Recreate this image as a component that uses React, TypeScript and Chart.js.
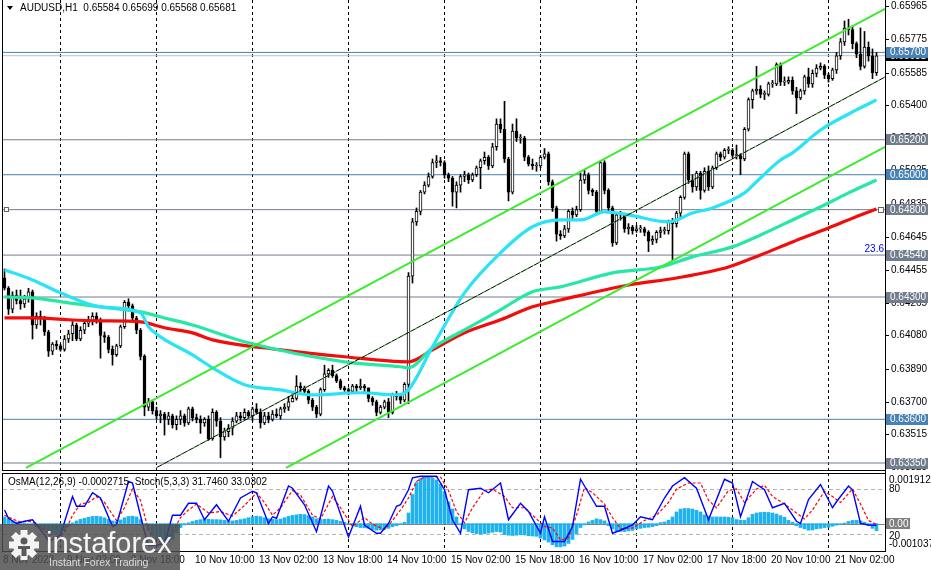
import React, { useEffect, useRef } from "react";
import { Chart, registerables } from "chart.js";

Chart.register(...registerables);

// ---------------- DATA ----------------
const symbolHeader = "AUDUSD,H1  0.65584 0.65699 0.65568 0.65681";
const subHeader = "OsMA(12,26,9) -0.0002715  Stoch(5,3,3) 31.7460 33.0302";

const firstOpen = 0.6441;
const closes = [
  0.6435, 0.6423, 0.6431, 0.6428, 0.6426, 0.6429, 0.6433, 0.6414, 0.6419, 0.6418,
  0.6410, 0.6399, 0.6403, 0.6402, 0.6400, 0.6406, 0.6409, 0.6414, 0.6406, 0.6411,
  0.6415, 0.6416, 0.6419, 0.6417, 0.6408, 0.6407, 0.6400, 0.6397, 0.6402, 0.6413,
  0.6427, 0.6425, 0.6418, 0.6411, 0.6396, 0.6367, 0.6370, 0.6365, 0.6362, 0.6363,
  0.6360, 0.6362, 0.6357, 0.6360, 0.6362, 0.6358, 0.6366, 0.6361, 0.6360, 0.6358,
  0.6360, 0.6349, 0.6364, 0.6359, 0.6350, 0.6353, 0.6355, 0.6359, 0.6362, 0.6361,
  0.6364, 0.6362, 0.6366, 0.6364, 0.6358, 0.6362, 0.6360, 0.6363, 0.6362, 0.6366,
  0.6367, 0.6370, 0.6372, 0.6379, 0.6378, 0.6376, 0.6371, 0.6367, 0.6363, 0.6377,
  0.6386, 0.6388, 0.6385, 0.6382, 0.6378, 0.6377, 0.6376, 0.6379, 0.6378, 0.6379,
  0.6378, 0.6372, 0.6370, 0.6364, 0.6367, 0.6370, 0.6364, 0.6374, 0.6373, 0.6371,
  0.6380, 0.6442, 0.6473, 0.6479, 0.6490, 0.6494, 0.6499, 0.6507, 0.6508, 0.6507,
  0.6500, 0.6498, 0.6490, 0.6494, 0.6499, 0.6500, 0.6497, 0.6500, 0.6504, 0.6508,
  0.6510, 0.6505, 0.6516, 0.6529, 0.6526, 0.6509, 0.6490, 0.6525, 0.6521, 0.6521,
  0.6510, 0.6506, 0.6505, 0.6505, 0.6510, 0.6512, 0.6496, 0.6481, 0.6466, 0.6465,
  0.6469, 0.6479, 0.6477, 0.6480, 0.6497, 0.6500, 0.6491, 0.6490, 0.6479, 0.6507,
  0.6491, 0.6481, 0.6461, 0.6477, 0.6477, 0.6469, 0.6470, 0.6468, 0.6469, 0.6469,
  0.6467, 0.6462, 0.6463, 0.6467, 0.6468, 0.6468, 0.6473, 0.6472, 0.6478, 0.6487,
  0.6512, 0.6497, 0.6493, 0.6501, 0.6491, 0.6502, 0.6493, 0.6504, 0.6512, 0.6510,
  0.6514, 0.6514, 0.6511, 0.6511, 0.6509, 0.6526, 0.6543, 0.6548, 0.6549, 0.6546,
  0.6546, 0.6552, 0.6552, 0.6563, 0.6553, 0.6553, 0.6554, 0.6548, 0.6544, 0.6548,
  0.6556, 0.6552, 0.6558, 0.6561, 0.6562, 0.6557, 0.6555, 0.6560, 0.6568, 0.6576,
  0.6584, 0.6583, 0.6575, 0.6569, 0.6562, 0.6573, 0.6568, 0.65584, 0.65681,
];
const highs = [
  0.6446, 0.6436, 0.6433, 0.6434, 0.6434, 0.6431, 0.6435, 0.6434, 0.6421, 0.6422,
  0.6419, 0.6411, 0.6404, 0.6405, 0.6403, 0.6408, 0.6411, 0.6416, 0.6415, 0.6413,
  0.6417, 0.6419, 0.6421, 0.6421, 0.6418, 0.6410, 0.6408, 0.6402, 0.6403, 0.6414,
  0.6428, 0.6429, 0.6426, 0.6419, 0.6412, 0.6397, 0.6372, 0.6371, 0.6367, 0.6365,
  0.6364, 0.6364, 0.6363, 0.6362, 0.6365, 0.6363, 0.6367, 0.6367, 0.6363, 0.6362,
  0.6361, 0.6362, 0.6366, 0.6365, 0.6361, 0.6355, 0.6357, 0.6361, 0.6364, 0.6364,
  0.6366, 0.6365, 0.6367, 0.6369, 0.6366, 0.6364, 0.6364, 0.6365, 0.6366, 0.6367,
  0.6369, 0.6373, 0.6376, 0.6385, 0.6381, 0.6379, 0.6377, 0.6372, 0.6368, 0.6378,
  0.6391, 0.6389, 0.6391, 0.6386, 0.6383, 0.6379, 0.6378, 0.6380, 0.6380, 0.6383,
  0.6380, 0.6378, 0.6373, 0.6371, 0.6368, 0.6371, 0.6372, 0.6375, 0.6376, 0.6374,
  0.6381, 0.6444, 0.6475, 0.6481, 0.6491, 0.6496, 0.6501, 0.6509, 0.6511, 0.6510,
  0.6508, 0.6501, 0.6499, 0.6496, 0.6500, 0.6502, 0.6501, 0.6501, 0.6505, 0.6509,
  0.6513, 0.6511, 0.6518, 0.6532, 0.6532, 0.6542, 0.6510, 0.6529, 0.6532, 0.6523,
  0.6522, 0.6511, 0.6509, 0.6507, 0.6511, 0.6515, 0.6513, 0.6497, 0.6482, 0.6468,
  0.6471, 0.6480, 0.6481, 0.6482, 0.6501, 0.6503, 0.6501, 0.6492, 0.6491, 0.6508,
  0.6508, 0.6492, 0.6482, 0.6478, 0.6479, 0.6478, 0.6472, 0.6471, 0.6471, 0.6471,
  0.6470, 0.6468, 0.6465, 0.6468, 0.6470, 0.6470, 0.6474, 0.6475, 0.6479, 0.6488,
  0.6513, 0.6513, 0.6500, 0.6502, 0.6502, 0.6504, 0.6505, 0.6505, 0.6513, 0.6513,
  0.6515, 0.6516, 0.6515, 0.6517, 0.6512, 0.6527, 0.6544, 0.6549, 0.6562, 0.6551,
  0.6548, 0.6553, 0.6554, 0.6564, 0.6564, 0.6556, 0.6556, 0.6556, 0.6550, 0.6549,
  0.6557, 0.6561, 0.6560, 0.6563, 0.6564, 0.6563, 0.6558, 0.6561, 0.6570, 0.6578,
  0.6588, 0.6589, 0.6585, 0.6576, 0.6584, 0.6582, 0.6576, 0.6572, 0.65699,
];
const lows = [
  0.6434, 0.6420, 0.6421, 0.6426, 0.6423, 0.6424, 0.6427, 0.6406, 0.6412, 0.6414,
  0.6408, 0.6396, 0.6397, 0.6400, 0.6399, 0.6399, 0.6404, 0.6405, 0.6405, 0.6405,
  0.6409, 0.6413, 0.6414, 0.6415, 0.6395, 0.6404, 0.6398, 0.6391, 0.6396, 0.6401,
  0.6412, 0.6422, 0.6416, 0.6409, 0.6394, 0.6362, 0.6365, 0.6363, 0.6360, 0.6358,
  0.6351, 0.6357, 0.6355, 0.6354, 0.6357, 0.6356, 0.6357, 0.6359, 0.6358, 0.6352,
  0.6356, 0.6348, 0.6348, 0.6356, 0.6338, 0.6348, 0.6350, 0.6351, 0.6358, 0.6359,
  0.6360, 0.6361, 0.6359, 0.6363, 0.6355, 0.6357, 0.6358, 0.6359, 0.6361, 0.6360,
  0.6364, 0.6365, 0.6370, 0.6371, 0.6376, 0.6375, 0.6369, 0.6365, 0.6361, 0.6362,
  0.6376, 0.6384, 0.6384, 0.6381, 0.6377, 0.6376, 0.6374, 0.6375, 0.6376, 0.6377,
  0.6376, 0.6370, 0.6368, 0.6362, 0.6363, 0.6366, 0.6361, 0.6363, 0.6371, 0.6369,
  0.6370, 0.6369, 0.6438, 0.6471, 0.6477, 0.6489, 0.6493, 0.6498, 0.6504, 0.6505,
  0.6498, 0.6496, 0.6482, 0.6481, 0.6490, 0.6496, 0.6495, 0.6496, 0.6499, 0.6492,
  0.6506, 0.6503, 0.6504, 0.6514, 0.6524, 0.6507, 0.6485, 0.6489, 0.6519, 0.6518,
  0.6508, 0.6505, 0.6503, 0.6502, 0.6504, 0.6509, 0.6494, 0.6479, 0.6462, 0.6463,
  0.6464, 0.6467, 0.6474, 0.6476, 0.6479, 0.6495, 0.6489, 0.6488, 0.6477, 0.6478,
  0.6489, 0.6479, 0.6459, 0.6460, 0.6474, 0.6467, 0.6466, 0.6466, 0.6467, 0.6467,
  0.6465, 0.6456, 0.6460, 0.6461, 0.6464, 0.6466, 0.6466, 0.6451, 0.6470, 0.6476,
  0.6486, 0.6495, 0.6490, 0.6491, 0.6486, 0.6490, 0.6491, 0.6492, 0.6503, 0.6508,
  0.6509, 0.6512, 0.6510, 0.6509, 0.6500, 0.6508, 0.6525, 0.6538, 0.6546, 0.6544,
  0.6543, 0.6545, 0.6550, 0.6551, 0.6551, 0.6551, 0.6552, 0.6546, 0.6535, 0.6543,
  0.6546, 0.6550, 0.6550, 0.6556, 0.6560, 0.6555, 0.6553, 0.6554, 0.6558, 0.6566,
  0.6574, 0.6580, 0.6572, 0.6567, 0.6560, 0.6561, 0.6565, 0.6555, 0.65568,
];

// OsMA histogram in units of 1e-5
const osmaE5 = [
  25, 19, 10, 6, 4, 2, 0, -5, -12, -18,
  -25, -35, -40, -42, -38, -28, -10, 3, 10, 16,
  20, 24, 27, 28, 26, 22, 16, 10, 8, 14,
  22, 27, 28, 25, 15, -5, -25, -45, -58, -68,
  -72, -70, -60, -35, -15, -5, 3, 8, 12, 15,
  17, 16, 15, 15, 14, 12, 10, 10, 12, 15,
  18, 22, 26, 28, 26, 22, 18, 16, 15, 17,
  22, 27, 31, 33, 35, 34, 30, 25, 18, 15,
  16, 17, 15, 12, 8, 5, 0, -6, -12, -15,
  -16, -18, -22, -25, -24, -20, -18, -12, -8, -4,
  5, 40, 110, 155, 170, 176, 176, 172, 165, 150,
  120, 82, 55, 25, -5, -20, -30, -35, -38, -40,
  -38, -36, -33, -30, -32, -42, -44, -45, -44, -42,
  -43, -46, -47, -48, -55, -62, -70, -80, -88, -88,
  -85, -75, -60, -40, -15, -5, 6, 12, 18, 15,
  10, -8, -20, -28, -30, -30, -28, -26, -20, -18,
  -15, -14, -12, -8, 4, 6, 13, 25, 44, 55,
  57, 57, 55, 50, 44, 33, 27, 25, 25, 25,
  25, 24, 22, 15, 13, 12, 22, 35, 40, 42,
  43, 42, 40, 36, 30, 24, 12, 5, -8, -15,
  -20, -25, -24, -20, -18, -15, -14, -10, -6, -3,
  2, 8, 12, 12, 10, 5, -8, -18, -27.15,
];

// Stochastic main (%K) and signal (%D): [bar, value]
const stochMain = [
  [0, 52], [1, 41], [3, 34], [5, 37], [7, 39], [10, 19], [11, 10], [14, 19], [17, 70], [18, 57],
  [20, 57], [22, 75], [24, 68], [27, 30], [28, 32], [31, 90], [32, 88], [35, 23], [36, 5], [38, 5],
  [40, 7], [42, 45], [44, 45], [46, 61], [48, 61], [50, 39], [53, 59], [56, 37], [59, 68], [62, 77],
  [63, 75], [66, 34], [67, 43], [68, 41], [71, 84], [72, 81], [75, 59], [78, 23], [81, 84], [82, 77],
  [86, 16], [89, 57], [90, 32], [93, 21], [94, 21], [96, 34], [98, 57], [99, 59], [101, 79], [102, 95],
  [104, 97], [108, 97], [110, 79], [112, 39], [114, 21], [116, 79], [119, 81], [121, 75], [124, 88], [126, 39],
  [129, 61], [131, 50], [134, 21], [135, 43], [137, 10], [140, 10], [142, 30], [144, 93], [145, 84], [148, 57],
  [150, 57], [152, 21], [154, 25], [157, 32], [159, 43], [162, 39], [165, 68], [167, 84], [170, 95], [173, 81],
  [176, 39], [180, 93], [182, 88], [184, 43], [187, 90], [190, 79], [192, 55], [195, 61], [198, 37], [199, 34],
  [201, 66], [204, 86], [207, 55], [208, 63], [211, 84], [212, 79], [214, 34], [216, 32], [218, 31.746],
];
const stochSignal = [
  [0, 45], [2, 40], [4, 36], [6, 37], [8, 34], [11, 20], [13, 13], [15, 22], [17, 45], [19, 60],
  [21, 62], [23, 70], [25, 62], [28, 38], [30, 55], [32, 80], [34, 65], [36, 25], [38, 8], [40, 7],
  [42, 22], [44, 42], [46, 52], [48, 60], [51, 48], [54, 50], [57, 44], [60, 58], [63, 75], [65, 62],
  [67, 45], [69, 55], [72, 78], [74, 72], [77, 45], [79, 40], [82, 70], [84, 55], [87, 30], [90, 42],
  [92, 33], [95, 26], [97, 38], [99, 52], [101, 68], [103, 90], [105, 96], [109, 96], [111, 78], [113, 50],
  [115, 35], [117, 55], [120, 78], [122, 80], [125, 70], [127, 55], [130, 55], [132, 45], [135, 30], [137, 28],
  [139, 12], [141, 15], [143, 45], [145, 82], [147, 75], [150, 60], [152, 42], [154, 27], [157, 28], [160, 38],
  [163, 45], [166, 62], [168, 80], [171, 88], [174, 88], [176, 65], [178, 55], [181, 78], [183, 80], [185, 62],
  [188, 80], [190, 85], [192, 70], [195, 60], [198, 48], [200, 40], [202, 52], [205, 77], [207, 70], [209, 62],
  [212, 80], [214, 60], [216, 38], [218, 33.0302],
];

// Moving averages: [bar, price]
const maFast = [
  [0, 0.64456], [7, 0.64398], [14, 0.64324], [24, 0.64244], [34, 0.6421], [36, 0.6413], [39, 0.64072],
  [47, 0.63969], [52, 0.63895], [60, 0.63798], [69, 0.63769], [77, 0.6374], [89, 0.63752], [98, 0.6374],
  [101, 0.63769], [107, 0.64015], [115, 0.64324], [124, 0.64553], [132, 0.64702], [139, 0.64741],
  [144, 0.64741], [150, 0.64787], [156, 0.6477], [166, 0.6473], [172, 0.64781], [177, 0.6481],
  [185, 0.64896], [188, 0.6496], [194, 0.65084], [197, 0.65125], [204, 0.65256], [213, 0.65371], [218, 0.65428],
];
const maMid = [
  [0, 0.64301], [7, 0.64295], [16, 0.64267], [24, 0.64244], [34, 0.64215], [40, 0.6418], [47, 0.6414],
  [60, 0.64044], [85, 0.63929], [99, 0.63901], [101, 0.63895], [107, 0.64009], [115, 0.64112],
  [124, 0.64227], [132, 0.6433], [139, 0.64358], [152, 0.64438], [164, 0.64472], [172, 0.6453],
  [182, 0.64587], [189, 0.64655], [197, 0.64741], [206, 0.64838], [211, 0.64896], [218, 0.6497],
];
const maSlow = [
  [0, 0.64181], [7, 0.64181], [16, 0.6417], [24, 0.64164], [34, 0.64158], [40, 0.64124], [47, 0.64095],
  [52, 0.64055], [69, 0.63998], [85, 0.63958], [101, 0.63929], [107, 0.63998], [115, 0.64095],
  [124, 0.6417], [132, 0.64244], [139, 0.64283], [156, 0.64369], [168, 0.64409], [181, 0.64472],
  [189, 0.64541], [197, 0.64615], [206, 0.64695], [214, 0.6477], [218, 0.64804],
];

// Trend channel lines: [bar, price] end points
const channelUpper = [[5.375, 0.63322], [220.125, 0.65949]];
const channelMiddle = [[37.875, 0.63322], [220.125, 0.65559]];
const channelLower = [[70.375, 0.63322], [220.125, 0.65159]];

// Horizontal levels
const levelValues = [0.657, 0.652, 0.65, 0.648, 0.6454, 0.643, 0.636, 0.6335];
const levelBlue = [true, false, true, false, false, false, true, false];
const currentPrice = 0.65681;
const fiboText = "23.6";

const priceTicks = [
  0.65965, 0.65775, 0.65585, 0.654, 0.6521, 0.65025, 0.64835, 0.64645, 0.64455,
  0.64265, 0.6408, 0.6389, 0.637, 0.63515, 0.63325,
];

const timeLabels: [number, string][] = [
  [0, "8 Nov 2023"], [16, "9 Nov 02:00"], [32, "9 Nov 18:00"], [48, "10 Nov 10:00"],
  [64, "13 Nov 02:00"], [80, "13 Nov 18:00"], [96, "14 Nov 10:00"], [112, "15 Nov 02:00"],
  [128, "15 Nov 18:00"], [144, "16 Nov 10:00"], [160, "17 Nov 02:00"], [176, "17 Nov 18:00"],
  [192, "20 Nov 10:00"], [208, "21 Nov 02:00"],
];
const dayStartBars = [14, 38, 62, 86, 110, 134, 158, 182, 206];

// ---------------- CONFIG ----------------
const X_MIN = -0.375;
const X_MAX = 220.125;
const FONT = '10px "Liberation Sans", Arial, sans-serif';
const BLUE_BOX = "#4682B4";
const GRAY_BOX = "#717D8C";
const GREEN = "#3DEB2E";

const pairs = (arr: number[][]) => arr.map(([x, y]) => ({ x, y }));

function fmt5(v: number) {
  return v.toFixed(5);
}

function drawGrid(ctx: CanvasRenderingContext2D, xs: any, top: number, bottom: number) {
  ctx.save();
  ctx.strokeStyle = "#000";
  ctx.lineWidth = 1;
  ctx.setLineDash([3, 3]);
  for (const b of dayStartBars) {
    const px = Math.floor(xs.getPixelForValue(b)) + 0.5;
    ctx.beginPath();
    ctx.moveTo(px, top);
    ctx.lineTo(px, bottom);
    ctx.stroke();
  }
  ctx.restore();
}

const mainDeco = {
  id: "mainDeco",
  beforeDraw(chart: any) {
    const { ctx, chartArea: a, scales } = chart;
    ctx.save();
    ctx.fillStyle = "#fff";
    ctx.fillRect(0, 0, chart.width, chart.height);
    ctx.restore();
    drawGrid(ctx, scales.x, a.top, a.bottom);
  },
  afterDraw(chart: any) {
    const { ctx, chartArea: a, scales } = chart;
    const ys = scales.y;
    ctx.save();
    ctx.setLineDash([]);
    ctx.strokeStyle = "#000";
    ctx.lineWidth = 1;
    // frame
    ctx.beginPath();
    ctx.moveTo(2.5, 0);
    ctx.lineTo(2.5, chart.height);
    ctx.moveTo(a.right + 0.5, 0);
    ctx.lineTo(a.right + 0.5, chart.height);
    ctx.moveTo(2, a.bottom + 0.5);
    ctx.lineTo(a.right + 1, a.bottom + 0.5);
    ctx.stroke();

    // price ticks
    ctx.font = FONT;
    ctx.textBaseline = "middle";
    ctx.textAlign = "left";
    ctx.fillStyle = "#000";
    for (const v of priceTicks) {
      const py = Math.round(ys.getPixelForValue(v)) + 0.5;
      ctx.beginPath();
      ctx.moveTo(a.right + 1, py);
      ctx.lineTo(a.right + 4, py);
      ctx.stroke();
      ctx.fillText(fmt5(v), a.right + 6, py);
    }

    // current price box
    const boxW = 42;
    const boxH = 11;
    const bx = a.right + 1;
    let py = ys.getPixelForValue(currentPrice);
    ctx.fillStyle = "#000";
    ctx.fillRect(bx, Math.round(py - boxH / 2), boxW, boxH);
    ctx.fillStyle = "#fff";
    ctx.fillText(fmt5(currentPrice), bx + 4, Math.round(py) + 0.5);

    // level boxes
    levelValues.forEach((v, k) => {
      const p = ys.getPixelForValue(v);
      ctx.fillStyle = levelBlue[k] ? BLUE_BOX : GRAY_BOX;
      ctx.fillRect(bx, Math.round(p - boxH / 2), boxW, boxH);
      ctx.fillStyle = "#fff";
      ctx.fillText(fmt5(v), bx + 4, Math.round(p) + 0.5);
    });

    // fibo label
    py = ys.getPixelForValue(levelValues[4]);
    ctx.fillStyle = "#0000FF";
    ctx.textAlign = "right";
    ctx.fillText(fiboText, a.right - 1, py - 6);

    // line handles
    const p48 = Math.round(ys.getPixelForValue(levelValues[3]));
    ctx.fillStyle = "#fff";
    ctx.strokeStyle = "#666";
    ctx.fillRect(a.right - 6.5, p48 - 2.5, 5, 5);
    ctx.strokeRect(a.right - 6.5, p48 - 2.5, 5, 5);
    ctx.fillRect(4.5, p48 - 2.5, 4, 4);
    ctx.strokeRect(4.5, p48 - 2.5, 4, 4);

    // header
    ctx.fillStyle = "#000";
    ctx.beginPath();
    ctx.moveTo(7, 6);
    ctx.lineTo(13, 6);
    ctx.lineTo(10, 10);
    ctx.closePath();
    ctx.fill();
    ctx.textAlign = "left";
    ctx.fillText(symbolHeader, 20, 8.5);
    ctx.restore();
  },
};

function drawGear(ctx: CanvasRenderingContext2D, cx: number, cy: number, r: number, bg: string) {
  ctx.save();
  ctx.translate(cx, cy);
  ctx.fillStyle = "#f4f4f4";
  for (let k = 0; k < 8; k++) {
    ctx.save();
    ctx.rotate((k * Math.PI) / 4);
    ctx.fillRect(-3.5, -r - 4, 7, 8);
    ctx.restore();
  }
  ctx.beginPath();
  ctx.arc(0, 0, r, 0, Math.PI * 2);
  ctx.fill();
  ctx.fillStyle = bg;
  ctx.beginPath();
  ctx.arc(0, -4, 3.5, 0, Math.PI * 2);
  ctx.fill();
  ctx.fillRect(-6, 1, 12, 3);
  ctx.fillRect(-2.5, 1, 5, 10);
  ctx.restore();
}

const subDeco = {
  id: "subDeco",
  beforeDraw(chart: any) {
    const { ctx, chartArea: a, scales } = chart;
    ctx.save();
    ctx.fillStyle = "#fff";
    ctx.fillRect(0, 0, chart.width, chart.height);
    ctx.restore();
    drawGrid(ctx, scales.x, a.top, a.bottom);
    const s = scales.yS;
    ctx.save();
    ctx.strokeStyle = "#B4B4B4";
    ctx.lineWidth = 1;
    ctx.setLineDash([4, 3]);
    for (const v of [80, 20]) {
      const py = Math.round(s.getPixelForValue(v)) + 0.5;
      ctx.beginPath();
      ctx.moveTo(a.left, py);
      ctx.lineTo(a.right, py);
      ctx.stroke();
    }
    ctx.setLineDash([]);
    ctx.strokeStyle = "#808080";
    const z = Math.round(scales.yO.getPixelForValue(0)) + 0.5;
    ctx.beginPath();
    ctx.moveTo(a.left, z);
    ctx.lineTo(a.right, z);
    ctx.stroke();
    ctx.restore();
  },
  afterDraw(chart: any) {
    const { ctx, chartArea: a, scales } = chart;
    ctx.save();
    ctx.strokeStyle = "#000";
    ctx.lineWidth = 1;
    ctx.setLineDash([]);
    ctx.beginPath();
    ctx.moveTo(2, a.top + 0.5);
    ctx.lineTo(a.right + 1, a.top + 0.5);
    ctx.moveTo(2, a.bottom + 0.5);
    ctx.lineTo(a.right + 1, a.bottom + 0.5);
    ctx.moveTo(2.5, a.top);
    ctx.lineTo(2.5, a.bottom + 1);
    ctx.moveTo(a.right + 0.5, 0);
    ctx.lineTo(a.right + 0.5, a.bottom + 1);
    ctx.stroke();

    ctx.font = FONT;
    ctx.textBaseline = "middle";
    ctx.textAlign = "left";
    ctx.fillStyle = "#000";
    const lx = a.right + 4;
    ctx.fillText("0.0019127", lx, a.top + 7);
    ctx.fillText("80", lx, Math.round(scales.yS.getPixelForValue(80)) + 0.5);
    ctx.fillText("20", lx, Math.round(scales.yS.getPixelForValue(20)) + 2.5);
    ctx.fillText("-0.001037", lx, a.bottom - 7);
    const z = scales.yO.getPixelForValue(0);
    ctx.fillStyle = "#808080";
    ctx.fillRect(a.right + 1, Math.round(z - 5.5), 24, 11);
    ctx.fillStyle = "#fff";
    ctx.fillText("0.00", lx, Math.round(z) + 0.5);

    ctx.fillStyle = "#000";
    ctx.fillText(subHeader, 8, a.top + 9);

    // time axis labels
    const xs = scales.x;
    ctx.textBaseline = "middle";
    for (const [b, t] of timeLabels) {
      const px = xs.getPixelForValue(b);
      ctx.fillText(t, Math.round(px - 1.5), a.bottom + 9.5);
    }

    // logo
    const bg = "rgba(78,78,78,0.84)";
    const top = a.bottom - 27;
    ctx.fillStyle = bg;
    ctx.fillRect(0, top, 180, chart.height - top);
    drawGear(ctx, 24, top + 21, 11, "#5a5a5a");
    ctx.fillStyle = "#f6f6f6";
    ctx.textBaseline = "alphabetic";
    ctx.font = '29px "Liberation Sans", Arial, sans-serif';
    ctx.fillText("instaforex", 46, top + 29);
    ctx.font = '10.5px "Liberation Sans", Arial, sans-serif';
    ctx.fillStyle = "#dddddd";
    ctx.fillText("Instant Forex Trading", 49, top + 42);
    ctx.restore();
  },
};

// ---------------- COMPONENT ----------------
export default function App() {
  const mainRef = useRef<HTMLCanvasElement | null>(null);
  const subRef = useRef<HTMLCanvasElement | null>(null);

  useEffect(() => {
    const opens = [firstOpen, ...closes.slice(0, -1)];
    const bodies = closes.map((c, i) => ({ x: i, y: [opens[i], c] }));
    const bodyColors = closes.map((c, i) => (c >= opens[i] ? "#ffffff" : "#000000"));
    const wicks = closes.map((c, i) => ({
      x: i,
      y: [Math.min(lows[i], opens[i], c), Math.max(highs[i], opens[i], c)],
    }));

    const levelSets = levelValues.map((v, k) => ({
      type: "line",
      data: [
        { x: X_MIN, y: v },
        { x: X_MAX, y: v },
      ],
      borderColor: levelBlue[k] ? BLUE_BOX : GRAY_BOX,
      borderWidth: 1,
      pointRadius: 0,
      order: 20,
    }));

    const lineSet = (data: number[][], color: string, width: number, order: number, extra: any = {}) => ({
      type: "line",
      data: pairs(data),
      borderColor: color,
      borderWidth: width,
      pointRadius: 0,
      order,
      ...extra,
    });

    const mainChart = new Chart(mainRef.current as HTMLCanvasElement, {
      type: "bar",
      data: {
        datasets: [
          ...levelSets,
          {
            type: "line",
            data: [
              { x: X_MIN, y: currentPrice },
              { x: X_MAX, y: currentPrice },
            ],
            borderColor: "#C0C0C0",
            borderWidth: 1,
            pointRadius: 0,
            order: 21,
          },
          {
            type: "bar",
            data: wicks,
            backgroundColor: "#000",
            barThickness: 1,
            grouped: false,
            order: 12,
          },
          {
            type: "bar",
            data: bodies,
            backgroundColor: bodyColors,
            borderColor: "#000",
            borderWidth: 1,
            borderSkipped: false,
            barThickness: 3,
            minBarLength: 1,
            grouped: false,
            order: 11,
          },
          lineSet(maSlow, "#F20C0C", 3.2, 6, { cubicInterpolationMode: "monotone" }),
          lineSet(maMid, "#26E8A4", 3.2, 5, { cubicInterpolationMode: "monotone" }),
          lineSet(maFast, "#2AE4F6", 3.2, 4, { cubicInterpolationMode: "monotone" }),
          lineSet(channelUpper, GREEN, 2, 3),
          lineSet(channelLower, GREEN, 2, 3),
          lineSet(channelMiddle, "#000", 1, 2),
          lineSet(channelMiddle, GREEN, 1, 1, { borderDash: [2, 5] }),
        ] as any,
      },
      options: {
        responsive: false,
        animation: false,
        events: [],
        layout: { padding: { left: 3, right: 46, top: 0, bottom: 1 } },
        plugins: { legend: { display: false }, tooltip: { enabled: false } },
        scales: {
          x: { type: "linear", min: X_MIN, max: X_MAX, display: false, offset: false },
          y: { type: "linear", min: 0.6331, max: 0.66, display: false },
        },
      } as any,
      plugins: [mainDeco],
    });

    const subChart = new Chart(subRef.current as HTMLCanvasElement, {
      type: "bar",
      data: {
        datasets: [
          {
            type: "bar",
            data: osmaE5.map((v, i) => ({ x: i, y: v * 1e-5 })),
            backgroundColor: "#1FB3EE",
            barThickness: 3,
            grouped: false,
            yAxisID: "yO",
            order: 5,
          },
          {
            type: "line",
            data: pairs(stochSignal),
            borderColor: "#FF0000",
            borderWidth: 1.2,
            borderDash: [3, 2],
            pointRadius: 0,
            yAxisID: "yS",
            order: 2,
          },
          {
            type: "line",
            data: pairs(stochMain),
            borderColor: "#0000FF",
            borderWidth: 1.4,
            pointRadius: 0,
            yAxisID: "yS",
            order: 1,
          },
        ] as any,
      },
      options: {
        responsive: false,
        animation: false,
        events: [],
        layout: { padding: { left: 3, right: 46, top: 2, bottom: 19 } },
        plugins: { legend: { display: false }, tooltip: { enabled: false } },
        scales: {
          x: { type: "linear", min: X_MIN, max: X_MAX, display: false, offset: false },
          yO: { type: "linear", min: -0.001037, max: 0.0019127, display: false },
          yS: { type: "linear", min: -2.67, max: 101.33, display: false },
        },
      } as any,
      plugins: [subDeco],
    });

    return () => {
      mainChart.destroy();
      subChart.destroy();
    };
  }, []);

  return (
    <div style={{ position: "absolute", left: 0, top: 0, width: 931, height: 570, background: "#fff" }}>
      <canvas ref={mainRef} width={931} height={471} style={{ position: "absolute", left: 0, top: 0 }} />
      <canvas ref={subRef} width={931} height={99} style={{ position: "absolute", left: 0, top: 471 }} />
    </div>
  );
}
